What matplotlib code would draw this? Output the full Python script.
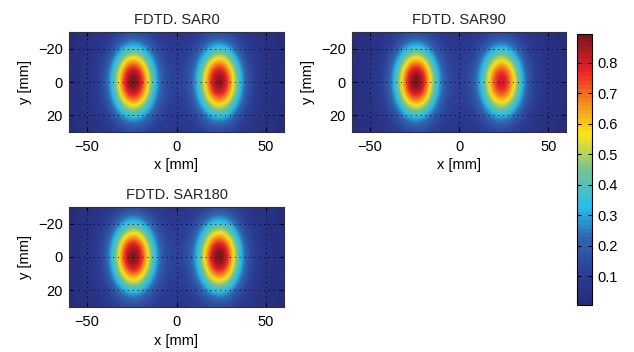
import numpy as np
import matplotlib
matplotlib.use("Agg")
import matplotlib.pyplot as plt
from matplotlib.colors import LinearSegmentedColormap

plt.rcParams['font.family'] = ['Liberation Sans', 'DejaVu Sans']
plt.rcParams['font.size'] = 10.5

# Panel titles
titles = ["FDTD. SAR0", "FDTD. SAR90", "FDTD. SAR180"]
# Peak centres [mm]
peak_x = [-24.0, 24.0]
# Peak amplitudes per panel (left, right)
peak_amp = [[0.89, 0.87], [0.89, 0.80], [0.88, 0.89]]
# Gaussian widths [mm] (sigma_x, sigma_y) for main lobe and broad halo
main_sigma = [7.8, 13.8]
halo_sigma = [18.0, 26.0]
halo_frac = 0.12
background = 0.02
# Axes ranges and ticks
x_range = [-60, 60]
y_range = [-30, 30]
x_ticks = [-50, 0, 50]
y_ticks = [-20, 0, 20]
cbar_ticks = [0.1, 0.2, 0.3, 0.4, 0.5, 0.6, 0.7, 0.8]
vmin, vmax = 0.005, 0.894

x = np.linspace(x_range[0], x_range[1], 241)
y = np.linspace(y_range[0], y_range[1], 121)
X, Y = np.meshgrid(x, y)

def field(amps):
    f = np.full_like(X, background)
    for cx, a in zip(peak_x, amps):
        main = np.exp(-((X - cx) ** 2 / (2 * main_sigma[0] ** 2) + Y ** 2 / (2 * main_sigma[1] ** 2)))
        halo = np.exp(-((X - cx) ** 2 / (2 * halo_sigma[0] ** 2) + Y ** 2 / (2 * halo_sigma[1] ** 2)))
        f = f + (a - background - halo_frac * a) * main + halo_frac * a * halo
    return f

# Muted (printed) jet colormap, 64 levels
anchors = [
    (0.00, (38, 42, 120)),
    (0.11, (44, 62, 150)),
    (0.25, (48, 105, 178)),
    (0.36, (40, 190, 235)),
    (0.50, (120, 195, 145)),
    (0.63, (250, 230, 25)),
    (0.75, (245, 140, 30)),
    (0.87, (235, 32, 40)),
    (1.00, (125, 22, 28)),
]
cmap = LinearSegmentedColormap.from_list(
    "pjet", [(p, tuple(c / 255 for c in rgb)) for p, rgb in anchors], N=64)

W, H = 634, 352
fig = plt.figure(figsize=(W / 100, H / 100), dpi=100)

positions = [(69, 32, 215, 100), (352, 32, 214, 100), (69, 207, 215, 100)]
im = None
for t, amps, (l, tp, w, h) in zip(titles, peak_amp, positions):
    ax = fig.add_axes([l / W, 1 - (tp + h) / H, w / W, h / H])
    im = ax.pcolormesh(x, y, field(amps), cmap=cmap, vmin=vmin, vmax=vmax, shading='gouraud')
    ax.set_xlim(x_range)
    ax.set_ylim(y_range[1], y_range[0])
    ax.set_xticks(x_ticks)
    ax.set_yticks(y_ticks)
    ax.set_xticklabels(["\u221250", "0", "50"])
    ax.set_yticklabels(["\u221220", "0", "20"])
    ax.tick_params(direction='in', length=3, top=True, right=True)
    ax.tick_params(axis='x', pad=6)
    ax.tick_params(axis='y', pad=4.5)
    ax.grid(True, color='black', linestyle=(0, (1, 4)), linewidth=0.7)
    for s in ax.spines.values():
        s.set_color('#333333')
    ax.set_title(t, fontsize=10.5, pad=6, color='#222222')
    ax.set_xlabel("x [mm]", labelpad=3)
    ax.set_ylabel("y [mm]", labelpad=4)

cax = fig.add_axes([577 / W, 1 - 305 / H, 15 / W, 271 / H])
cb = fig.colorbar(im, cax=cax, ticks=cbar_ticks)
cb.ax.tick_params(direction='in', length=3, left=True, right=True, pad=4)
cb.ax.set_yticklabels([f"{v:.1f}" for v in cbar_ticks])

fig.savefig("out.png", dpi=100)
